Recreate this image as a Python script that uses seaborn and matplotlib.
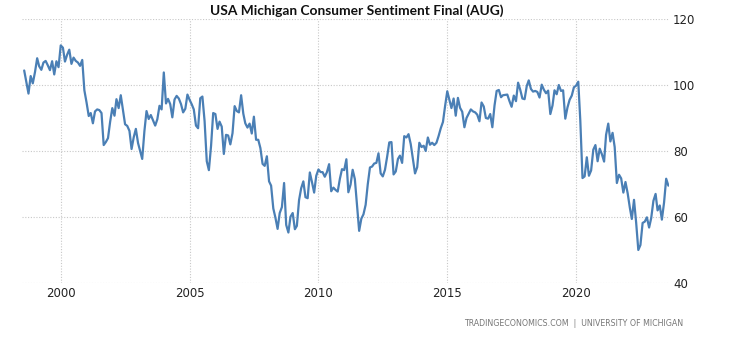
import matplotlib
matplotlib.use("Agg")
import matplotlib.pyplot as plt
import matplotlib.dates as mdates
import seaborn as sns
import pandas as pd
import numpy as np

title = "USA Michigan Consumer Sentiment Final (AUG)"
source = "TRADINGECONOMICS.COM  |  UNIVERSITY OF MICHIGAN"
start_month = "1998-08-01"

v1998 = [104.4, 100.9, 97.4, 102.7, 100.5]
v1999 = [103.9, 108.1, 105.7, 104.6, 106.8, 107.3, 106.0, 104.5, 107.2, 103.2, 107.2, 105.4]
v2000 = [112.0, 111.3, 107.1, 109.2, 110.7, 106.4, 108.3, 107.3, 106.8, 105.8, 107.6, 98.4]
v2001 = [94.7, 90.6, 91.5, 88.4, 92.0, 92.6, 92.4, 91.5, 81.8, 82.7, 83.9, 88.8]
v2002 = [93.0, 90.7, 95.7, 93.0, 96.9, 92.4, 88.1, 87.6, 86.1, 80.6, 84.2, 86.7]
v2003 = [82.4, 79.9, 77.6, 86.0, 92.1, 89.7, 90.9, 89.3, 87.7, 89.6, 93.7, 92.6]
v2004 = [103.8, 94.4, 95.8, 94.2, 90.2, 95.6, 96.7, 95.9, 94.2, 91.7, 92.8, 97.1]
v2005 = [95.5, 94.1, 92.6, 87.7, 86.9, 96.0, 96.5, 89.1, 76.9, 74.2, 81.6, 91.5]
v2006 = [91.2, 86.7, 88.9, 87.4, 79.1, 84.9, 84.7, 82.0, 85.4, 93.6, 92.1, 91.7]
v2007 = [96.9, 91.3, 88.4, 87.1, 88.3, 85.3, 90.4, 83.4, 83.4, 80.9, 76.1, 75.5]
v2008 = [78.4, 70.8, 69.5, 62.6, 59.8, 56.4, 61.2, 63.0, 70.3, 57.6, 55.3, 60.1]
v2009 = [61.2, 56.3, 57.3, 65.1, 68.7, 70.8, 66.0, 65.7, 73.5, 70.6, 67.4, 72.5]
v2010 = [74.4, 73.6, 73.6, 72.2, 73.6, 76.0, 67.8, 68.9, 68.2, 67.7, 71.6, 74.5]
v2011 = [74.2, 77.5, 67.5, 69.8, 74.3, 71.5, 63.7, 55.8, 59.5, 60.8, 63.7, 69.9]
v2012 = [75.0, 75.3, 76.2, 76.4, 79.3, 73.2, 72.3, 74.3, 78.3, 82.6, 82.7, 72.9]
v2013 = [73.8, 77.6, 78.6, 76.4, 84.5, 84.1, 85.1, 82.1, 77.5, 73.2, 75.1, 82.5]
v2014 = [81.2, 81.6, 80.0, 84.1, 81.9, 82.5, 81.8, 82.5, 84.6, 86.9, 88.8, 93.6]
v2015 = [98.1, 95.4, 93.0, 95.9, 90.7, 96.1, 93.1, 91.9, 87.2, 90.0, 91.3, 92.6]
v2016 = [92.0, 91.7, 91.0, 89.0, 94.7, 93.5, 90.0, 89.8, 91.2, 87.2, 93.8, 98.2]
v2017 = [98.5, 96.3, 96.9, 97.0, 97.1, 95.1, 93.4, 96.8, 95.1, 100.7, 98.5, 95.9]
v2018 = [95.7, 99.7, 101.4, 98.8, 98.0, 98.2, 97.9, 96.2, 100.1, 98.6, 97.5, 98.3]
v2019 = [91.2, 93.8, 98.4, 97.2, 100.0, 98.2, 98.4, 89.8, 93.2, 95.5, 96.8, 99.3]
v2020 = [99.8, 101.0, 89.1, 71.8, 72.3, 78.1, 72.5, 74.1, 80.4, 81.8, 76.9, 80.7]
v2021 = [79.0, 76.8, 84.9, 88.3, 82.9, 85.5, 81.2, 70.3, 72.8, 71.7, 67.4, 70.6]
v2022 = [67.2, 62.8, 59.4, 65.2, 58.4, 50.0, 51.5, 58.2, 58.6, 59.9, 56.8, 59.7]
v2023 = [64.9, 67.0, 62.0, 63.5, 59.2, 64.4, 71.6, 69.5]

y_ticks = [40, 60, 80, 100, 120]
x_tick_years = [2000, 2005, 2010, 2015, 2020]

values = (v1998 + v1999 + v2000 + v2001 + v2002 + v2003 + v2004 + v2005 + v2006
          + v2007 + v2008 + v2009 + v2010 + v2011 + v2012 + v2013 + v2014 + v2015
          + v2016 + v2017 + v2018 + v2019 + v2020 + v2021 + v2022 + v2023)
dates = pd.date_range(start_month, periods=len(values), freq="MS")
df = pd.DataFrame({"date": dates, "value": values})

sns.set_style("white")
plt.rcParams["font.family"] = ["DejaVu Sans"]

W, H = 730, 340
fig = plt.figure(figsize=(W / 100, H / 100), dpi=100)
ax = fig.add_axes([22 / W, 57 / H, (669 - 22) / W, (283 - 19) / H])

sns.lineplot(data=df, x="date", y="value", ax=ax, color="#4a7fb5", linewidth=1.6)

ax.set_xlim(pd.Timestamp("1998-07-01"), pd.Timestamp("2023-08-10"))
ax.set_ylim(40, 120)
ax.set_yticks(y_ticks)
ax.set_xticks([pd.Timestamp(f"{y}-01-01") for y in x_tick_years])
ax.xaxis.set_major_formatter(mdates.DateFormatter("%Y"))
ax.yaxis.tick_right()
ax.yaxis.set_label_position("right")
ax.set_xlabel("")
ax.set_ylabel("")
for s in ax.spines.values():
    s.set_visible(False)
ax.grid(True, color="#c8c8c8", linestyle=(0, (1, 1.5)), linewidth=0.8)
ax.tick_params(axis="both", length=0, labelsize=8.5, colors="#222222", pad=3)

t = fig.text(356.5 / W, 1 - 10.5 / H, title, ha="center", va="center",
             fontsize=10.5, fontweight="bold", family=["Lato", "DejaVu Sans"], color="#111111")
s = fig.text(683 / W, 1 - 324 / H, source, ha="right", va="center",
             fontsize=6.5, color="#777777", family=["DejaVu Sans"])

fig.canvas.draw()
r = fig.canvas.get_renderer()
for txt, target in ((t, 293.0), (s, 220.0)):
    w = txt.get_window_extent(r).width
    txt.set_fontsize(txt.get_fontsize() * target / w)

fig.savefig("out.png", dpi=100, facecolor="white")
